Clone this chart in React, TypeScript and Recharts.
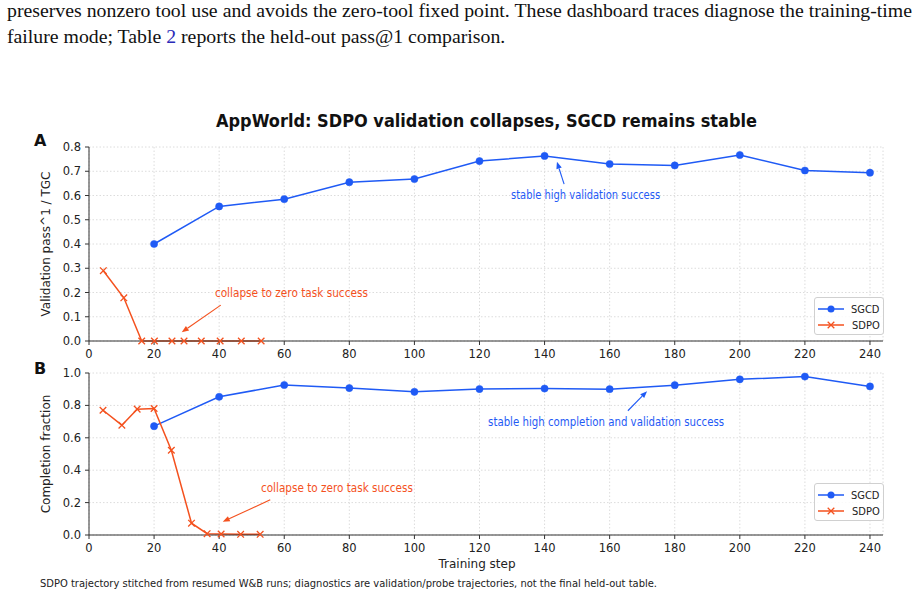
import {
  CartesianGrid,
  Legend,
  Line,
  LineChart,
  ReferenceDot,
  ReferenceLine,
  XAxis,
  YAxis,
} from "recharts";

const FONT = '"DejaVu Sans", sans-serif';
const BLUE = "#1f5af5";
const ORANGE = "#f4511e";
const GRID = "#dcdcdc";
const AXIS = "#333";

// SGCD validation steps
const steps = [20, 40, 60, 80, 100, 120, 140, 160, 180, 200, 220, 240];
const sgcdPass = [0.4, 0.555, 0.585, 0.655, 0.668, 0.742, 0.763, 0.73, 0.724, 0.767, 0.703, 0.694];
const sgcdCompletion = [0.672, 0.853, 0.926, 0.907, 0.884, 0.901, 0.904, 0.9, 0.925, 0.961, 0.978, 0.917];

// SDPO stitched trajectory (irregular steps)
const sdpoPassSteps = [4.4, 10.7, 16.2, 20.1, 25.5, 29.2, 34.5, 40.3, 46.8, 52.9];
const sdpoPass = [0.29, 0.178, 0, 0, 0, 0, 0, 0, 0, 0];
const sdpoCompSteps = [4.3, 10.1, 14.8, 20, 25.3, 31.5, 36.3, 40.6, 46.6, 52.6];
const sdpoCompletion = [0.77, 0.678, 0.777, 0.781, 0.523, 0.073, 0.008, 0.006, 0.004, 0.004];

const xTicks = [0, 20, 40, 60, 80, 100, 120, 140, 160, 180, 200, 220, 240];
const passTicks = [0, 0.1, 0.2, 0.3, 0.4, 0.5, 0.6, 0.7, 0.8];
const completionTicks = [0, 0.2, 0.4, 0.6, 0.8, 1.0];

const seriesNames = ["SGCD", "SDPO"];

type Pt = { x: number; y: number };
const zip = (xs: number[], ys: number[]): Pt[] => xs.map((x, i) => ({ x, y: ys[i] }));

const tickStyle = { fontSize: 11.5, fill: "#222" };

function Cross(props: any) {
  const { cx, cy } = props;
  if (cx == null || cy == null) return null;
  const s = 3.3;
  return (
    <path
      d={`M${cx - s},${cy - s}L${cx + s},${cy + s}M${cx - s},${cy + s}L${cx + s},${cy - s}`}
      stroke={ORANGE}
      strokeWidth={1.3}
      fill="none"
    />
  );
}

function arrowShape(color: string) {
  return (props: any) => {
    const { x1, y1, x2, y2 } = props;
    const a = Math.atan2(y2 - y1, x2 - x1);
    const L = 7;
    const W = 2.8;
    const bx = x2 - L * Math.cos(a);
    const by = y2 - L * Math.sin(a);
    const px = -Math.sin(a) * W;
    const py = Math.cos(a) * W;
    return (
      <g>
        <line x1={x1} y1={y1} x2={bx} y2={by} stroke={color} strokeWidth={1.1} />
        <polygon points={`${x2},${y2} ${bx + px},${by + py} ${bx - px},${by - py}`} fill={color} />
      </g>
    );
  };
}

function noteShape(text: string, color: string, len: number) {
  return (props: any) => (
    <text
      x={props.cx}
      y={props.cy}
      textAnchor="middle"
      dominantBaseline="central"
      fontSize={11.5}
      fill={color}
      textLength={len}
      lengthAdjust="spacingAndGlyphs"
    >
      {text}
    </text>
  );
}

function LegendBox() {
  return (
    <div
      style={{
        width: 70,
        height: 38,
        boxSizing: "border-box",
        border: "1px solid #d0d0d0",
        borderRadius: 3,
        background: "rgba(255,255,255,0.85)",
        fontSize: 11,
        color: "#222",
        paddingTop: 3,
      }}
    >
      {seriesNames.map((name, i) => (
        <div key={name} style={{ display: "flex", alignItems: "center", height: 16 }}>
          <svg width={37} height={16} style={{ display: "block" }}>
            <line x1={3} y1={8} x2={29} y2={8} stroke={i === 0 ? BLUE : ORANGE} strokeWidth={1.5} />
            {i === 0 ? <circle cx={16} cy={8} r={3.5} fill={BLUE} /> : <Cross cx={16} cy={8} />}
          </svg>
          <span style={{ display: "inline-block", transform: "scaleX(0.9)", transformOrigin: "left" }}>{name}</span>
        </div>
      ))}
    </div>
  );
}

function Panel(props: {
  top: number;
  height: number;
  marginTop: number;
  marginBottom: number;
  axisHeight: number;
  sgcd: Pt[];
  sdpo: Pt[];
  yMax: number;
  yTicks: number[];
  yLabel: string;
  xLabel?: string;
  legendTop: number;
  notes: { x: number; y: number; text: string; color: string; len: number }[];
  arrows: { from: Pt; to: Pt; color: string }[];
}) {
  return (
    <div style={{ position: "absolute", left: 0, top: props.top }}>
      <LineChart
        width={920}
        height={props.height}
        margin={{ top: props.marginTop, right: 37, left: 0, bottom: props.marginBottom }}
      >
        <CartesianGrid stroke={GRID} strokeDasharray="1.5 2" />
        <XAxis
          type="number"
          dataKey="x"
          domain={[0, 244]}
          ticks={xTicks}
          allowDataOverflow
          height={props.axisHeight}
          tick={tickStyle}
          tickMargin={5}
          tickSize={4}
          stroke={AXIS}
          label={
            props.xLabel
              ? { value: props.xLabel, position: "insideBottom", offset: 0, dx: -9, fontSize: 12, fill: "#222" }
              : undefined
          }
        />
        <YAxis
          type="number"
          dataKey="y"
          domain={[0, props.yMax]}
          ticks={props.yTicks}
          width={89}
          tick={tickStyle}
          tickMargin={4}
          tickSize={4}
          stroke={AXIS}
          tickFormatter={(v: number) => v.toFixed(1)}
          label={{ value: props.yLabel, angle: -90, position: "center", dx: 1, fontSize: 12, fill: "#222" }}
        />
        <Line
          data={props.sgcd}
          dataKey="y"
          name="SGCD"
          stroke={BLUE}
          strokeWidth={1.5}
          dot={{ r: 3.6, fill: BLUE, stroke: BLUE, strokeWidth: 0.5 }}
          isAnimationActive={false}
        />
        <Line
          data={props.sdpo}
          dataKey="y"
          name="SDPO"
          stroke={ORANGE}
          strokeWidth={1.5}
          dot={(p: any) => <Cross key={p.index} cx={p.cx} cy={p.cy} />}
          isAnimationActive={false}
        />
        {props.arrows.map((a, i) => (
          <ReferenceLine
            key={"a" + i}
            segment={[a.from, a.to]}
            shape={arrowShape(a.color)}
          />
        ))}
        {props.notes.map((n, i) => (
          <ReferenceDot key={"n" + i} x={n.x} y={n.y} r={0} shape={noteShape(n.text, n.color, n.len)} />
        ))}
        <Legend
          layout="vertical"
          align="center"
          verticalAlign="middle"
          content={<LegendBox />}
          wrapperStyle={{ left: 814, top: props.legendTop, width: 70, height: 38 }}
        />
      </LineChart>
    </div>
  );
}

export default function App() {
  return (
    <div
      style={{
        position: "absolute",
        left: 0,
        top: 0,
        width: 920,
        height: 597,
        overflow: "hidden",
        background: "#fff",
        fontFamily: FONT,
      }}
    >
      <div
        style={{
          position: "absolute",
          left: 7,
          top: 1.4,
          width: 905,
          fontFamily: '"Liberation Serif", serif',
          fontSize: 19.8,
          lineHeight: 1,
          textAlign: "justify",
          textAlignLast: "justify",
          whiteSpace: "nowrap",
          color: "#111",
        }}
      >
        preserves nonzero tool use and avoids the zero-tool fixed point. These dashboard traces diagnose the training-time
      </div>
      <div
        style={{
          position: "absolute",
          left: 7,
          top: 27.4,
          fontFamily: '"Liberation Serif", serif',
          fontSize: 19.8,
          lineHeight: 1,
          whiteSpace: "nowrap",
          color: "#111",
        }}
      >
        failure mode; Table <span style={{ color: "#2a2ab8" }}>2</span> reports the held-out pass@1 comparison.
      </div>

      <Panel
        top={130}
        height={232}
        marginTop={17}
        marginBottom={0}
        axisHeight={21}
        sgcd={zip(steps, sgcdPass)}
        sdpo={zip(sdpoPassSteps, sdpoPass)}
        yMax={0.8}
        yTicks={passTicks}
        yLabel="Validation pass^1 / TGC"
        legendTop={167}
        notes={[
          { x: 62.2, y: 0.198, text: "collapse to zero task success", color: ORANGE, len: 153 },
          { x: 152.6, y: 0.602, text: "stable high validation success", color: BLUE, len: 149 },
        ]}
        arrows={[
          { from: { x: 40.5, y: 0.148 }, to: { x: 28.5, y: 0.036 }, color: ORANGE },
          { from: { x: 146, y: 0.647 }, to: { x: 143.8, y: 0.739 }, color: BLUE },
        ]}
      />
      <Panel
        top={362}
        height={235}
        marginTop={11}
        marginBottom={29}
        axisHeight={33}
        sgcd={zip(steps, sgcdCompletion)}
        sdpo={zip(sdpoCompSteps, sdpoCompletion)}
        yMax={1.0}
        yTicks={completionTicks}
        yLabel="Completion fraction"
        xLabel="Training step"
        legendTop={121}
        notes={[
          { x: 76.2, y: 0.291, text: "collapse to zero task success", color: ORANGE, len: 152 },
          { x: 158.9, y: 0.697, text: "stable high completion and validation success", color: BLUE, len: 236 },
        ]}
        arrows={[
          { from: { x: 55.7, y: 0.217 }, to: { x: 41.1, y: 0.082 }, color: ORANGE },
          { from: { x: 165.6, y: 0.767 }, to: { x: 171.5, y: 0.888 }, color: BLUE },
        ]}
      />

      <svg
        width={920}
        height={597}
        style={{ position: "absolute", left: 0, top: 0, pointerEvents: "none" }}
      >
        <text x={486.5} y={127} textAnchor="middle" fontSize={17.5} fontWeight="bold" fill="#111" textLength={541} lengthAdjust="spacingAndGlyphs">
          AppWorld: SDPO validation collapses, SGCD remains stable
        </text>
        <text x={34} y={146} fontSize={16} fontWeight="bold" fill="#111">A</text>
        <text x={34} y={374} fontSize={16} fontWeight="bold" fill="#111">B</text>
        <text x={40} y={587} fontSize={10} fill="#222" textLength={617} lengthAdjust="spacingAndGlyphs">
          SDPO trajectory stitched from resumed W&amp;B runs; diagnostics are validation/probe trajectories, not the final held-out table.
        </text>
      </svg>
    </div>
  );
}
